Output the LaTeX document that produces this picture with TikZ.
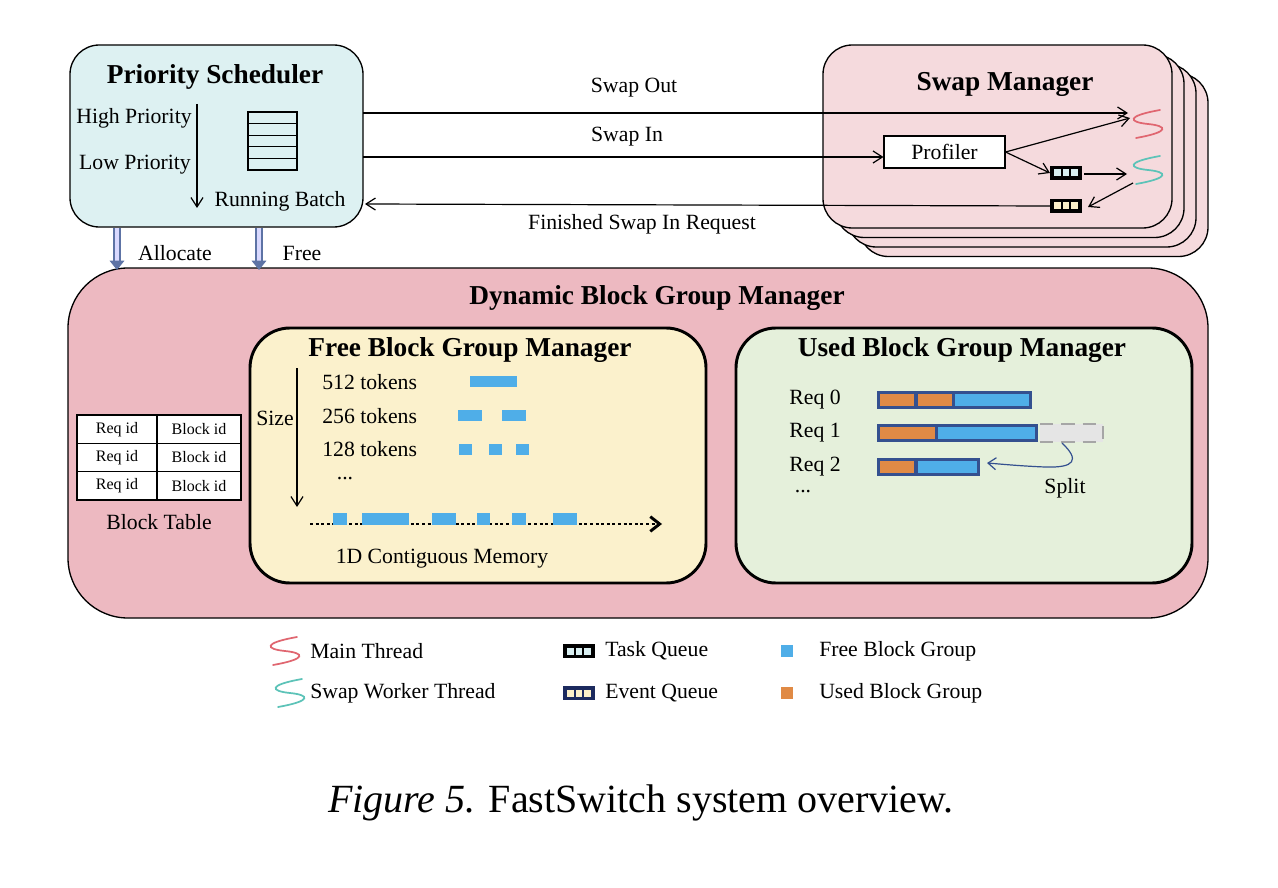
\documentclass[tikz,border=0pt]{standalone}
\usepackage{fontspec}
\setmainfont{Liberation Serif}
\usetikzlibrary{arrows.meta}
\definecolor{pscyan}{HTML}{DDF1F2}
\definecolor{swpink}{HTML}{F5DADD}
\definecolor{dbpink}{HTML}{EDB9C1}
\definecolor{fyellow}{HTML}{FBF1CC}
\definecolor{ugreen}{HTML}{E5F0DB}
\definecolor{bblue}{HTML}{4FAEE8}
\definecolor{borange}{HTML}{E08A45}
\definecolor{bnavy}{HTML}{34508F}
\definecolor{tred}{HTML}{E06670}
\definecolor{tteal}{HTML}{5CC3B8}
\definecolor{qcyan}{HTML}{D8EEF0}
\definecolor{qcream}{HTML}{FBEFC8}
\definecolor{qnavy}{HTML}{1C2A5E}
\begin{document}
\begin{tikzpicture}[x=0.75pt,y=-0.75pt,
  txt/.style={font=\fontsize{16.3}{19}\selectfont, inner sep=0pt},
  ttl/.style={font=\fontsize{20.5}{24}\selectfont\bfseries, inner sep=0pt},
  small/.style={font=\fontsize{12}{13}\selectfont, inner sep=0pt},
  box/.style={draw=black, line width=1pt, rounded corners=22},
  arr/.style={-{Straight Barb[length=7pt,width=9pt]}, line width=0.9pt},
  fb/.style={fill=bblue},
  ub/.style={fill=borange},
  bar/.style={draw=bnavy, line width=2pt},
]
\useasboundingbox (0,0) rectangle (1278,888);
\fill[white] (0,0) rectangle (1278,888);

% Priority scheduler
\draw[box, fill=pscyan] (70,45) rectangle (363,227);
\node[ttl] (pst) at (215,77) {Priority Scheduler};
\node[txt] (hp) at (134,118) {High Priority};
\node[txt] (lp) at (135,165) {Low Priority};
\coordinate (pa) at (197,104); \coordinate (pb) at (197,208);
\draw[arr] (pa) -- (pb);
\foreach \i in {0,...,4} \draw[line width=0.8pt] (248,112+11.6*\i) rectangle (297,123.6+11.6*\i);
\node[txt] (rb) at (280,201) {Running Batch};

% Swap Manager stack
\foreach \d in {3,2,1} \draw[box, fill=swpink] (823+12*\d,45+9.5*\d) rectangle (1172+12*\d,228+9.5*\d);
\draw[box, fill=swpink] (823,45) rectangle (1172,228);
\node[ttl] (smt) at (1005,84) {Swap Manager};
\node[draw, line width=0.8pt, fill=white, minimum width=121*0.75pt, minimum height=32*0.75pt, txt] (prof) at (944.5,152) {Profiler};

% threads
\newcommand{\squig}[3]{\draw[#3, line width=1.3pt, line cap=round] (#1+12,#2-14) .. controls (#1-22,#2-8) and (#1-20,#2-2) .. (#1,#2) .. controls (#1+20,#2+2) and (#1+22,#2+8) .. (#1-12,#2+14);}
\squig{1148}{124}{tred}
\squig{1148}{170}{tteal}
% queues
\newcommand{\queue}[4]{\fill[#4] (#1,#2) rectangle (#1+32,#2+14);
  \foreach \k in {0,1,2} \fill[#3] (#1+4+8.5*\k,#2+3.5) rectangle (#1+10.5+8.5*\k,#2+10.5);}
\queue{1050}{166}{qcyan}{black}
\queue{1050}{199}{qcream}{black}
\coordinate (tq) at (1050,173); \coordinate (tqr) at (1084,174);
\coordinate (eq) at (1050,206); \coordinate (eqr) at (1088,207);
\coordinate (red1) at (1128,113); \coordinate (red2) at (1130,118);
\coordinate (teal1) at (1127,174); \coordinate (teal2) at (1133,183);

\coordinate (so) at (363,113); \coordinate (si) at (363,157); \coordinate (fin) at (365,204);
\draw[arr] (so) -- (red1);
\draw[arr] (si) -- (prof.west |- 0,157);
\draw[arr] (eq) -- (fin);
\draw[arr] (prof.east) -- (red2);
\draw[arr] (prof.east) -- (tq);
\draw[arr] (tqr) -- (teal1);
\draw[arr] (teal2) -- (eqr);
\node[txt] (lso) at (634,88) {Swap Out};
\node[txt] (lsi) at (627,137) {Swap In};
\node[txt] (lfin) at (642,224) {Finished Swap In Request};

% Dynamic Block Group Manager
\draw[box, fill=dbpink, rounded corners=45] (68,268) rectangle (1208,618);
\node[ttl] (dbt) at (657,298) {Dynamic Block Group Manager};

% allocate / free
\foreach \x/\n in {117/al,259/fr}{
  \coordinate (\n1) at (\x,228); \coordinate (\n2) at (\x,270);
  \draw[-{Triangle[length=7pt,width=11pt]}, draw=bnavy!80, fill=bnavy!80, double=blue!15, double distance=3.5pt, line width=1pt] (\n1) -- (\n2);}
\node[txt] (lal) at (175,253) {Allocate};
\node[txt] (lfr) at (302,253) {Free};

% block table
\fill[white] (77,415) rectangle (241,500);
\draw[line width=0.8pt] (77,415) rectangle (241,500);
\foreach \y in {443.3,471.7} \draw[line width=0.8pt] (77,\y) -- (241,\y);
\draw[line width=0.8pt] (157,415) -- (157,500);
\foreach \y in {429.2,457.5,485.8}{\node[small] at (117,\y) {Req id}; \node[small] at (199,\y) {Block id};}
\node[txt] (btl) at (159,522) {Block Table};

% Free BGM
\draw[box, fill=fyellow, line width=2.2pt, rounded corners=30] (250,328) rectangle (706,583);
\node[ttl] (fbt) at (470,350) {Free Block Group Manager};
\coordinate (sz1) at (297,368); \coordinate (sz2) at (297,507);
\draw[arr] (sz1) -- (sz2);
\node[txt] (lsz) at (275,418) {Size};
\node[txt, anchor=west] at (322,382) {512 tokens};
\node[txt, anchor=west] at (322,416) {256 tokens};
\node[txt, anchor=west] at (322,449) {128 tokens};
\node[txt] at (345,479) {...};
\fill[fb] (470,376) rectangle (517,387);
\fill[fb] (458,410) rectangle (482,421); \fill[fb] (502,410) rectangle (526,421);
\foreach \x in {459,489,516} \fill[fb] (\x,444) rectangle (\x+13,455);
\coordinate (m1) at (310,524); \coordinate (m2) at (662,524);
\draw[dotted, line width=2.2pt, -{Straight Barb[length=7pt,width=11pt]}] (m1) -- (m2);
\foreach \a/\b in {333/347,362/409,432/456,477/490,512/526,553/577} \fill[fb] (\a,513) rectangle (\b,525);
\node[txt] (lmem) at (442,559) {1D Contiguous Memory};

% Used BGM
\draw[box, fill=ugreen, line width=2.2pt, rounded corners=30] (736,328) rectangle (1192,583);
\node[ttl] (ubt) at (962,350) {Used Block Group Manager};
\node[txt] at (815,400) {Req 0};
\node[txt] at (815,433) {Req 1};
\node[txt] at (815,467) {Req 2};
\node[txt] at (803,492) {...};
% req0
\fill[bnavy] (877,391) rectangle (1032,409);
\fill[borange] (880,394) rectangle (914,406); \fill[borange] (918,394) rectangle (952,406); \fill[bblue] (955,394) rectangle (1029,406);
% req1
\fill[black!10] (1040,424) rectangle (1103,442);
\draw[black!35, dashed, dash pattern=on 10pt off 6pt, line width=2pt] (1040,424) -- (1103,424) (1103,426) -- (1103,440) (1040,442) -- (1103,442);
\fill[bnavy] (877,424) rectangle (1038,442);
\fill[borange] (880,427) rectangle (935,439); \fill[bblue] (938,427) rectangle (1035,439);
% req2
\fill[bnavy] (877,458) rectangle (980,476);
\fill[borange] (880,461) rectangle (914,473); \fill[bblue] (918,461) rectangle (977,473);
\coordinate (sp1) at (1062,443); \coordinate (sp2) at (987,463);
\draw[-{Straight Barb[length=6pt,width=9pt]}, draw=bnavy, line width=0.9pt] (sp1) .. controls (1080,460) and (1075,468) .. (1045,467) .. controls (1020,466) and (1000,464) .. (sp2);
\node[txt] (lsp) at (1065,488) {Split};

% legend
\squig{285}{651}{tred}
\node[txt, anchor=west] at (310,651) {Main Thread};
\squig{290}{693}{tteal}
\node[txt, anchor=west] at (310,693) {Swap Worker Thread};
\queue{563}{644}{qcyan}{black}
\node[txt, anchor=west] at (605,651) {Task Queue};
\queue{563}{686}{qcream}{qnavy}
\node[txt, anchor=west] at (605,693) {Event Queue};
\fill[bblue] (781,645) rectangle (793,657);
\node[txt, anchor=west] at (819,651) {Free Block Group};
\fill[borange] (781,687) rectangle (793,699);
\node[txt, anchor=west] at (819,693) {Used Block Group};

\node[font=\fontsize{30}{34}\selectfont, inner sep=0pt] (cap) at (641,803) {\textit{Figure 5.} FastSwitch system overview.};
\end{tikzpicture}
\end{document}
